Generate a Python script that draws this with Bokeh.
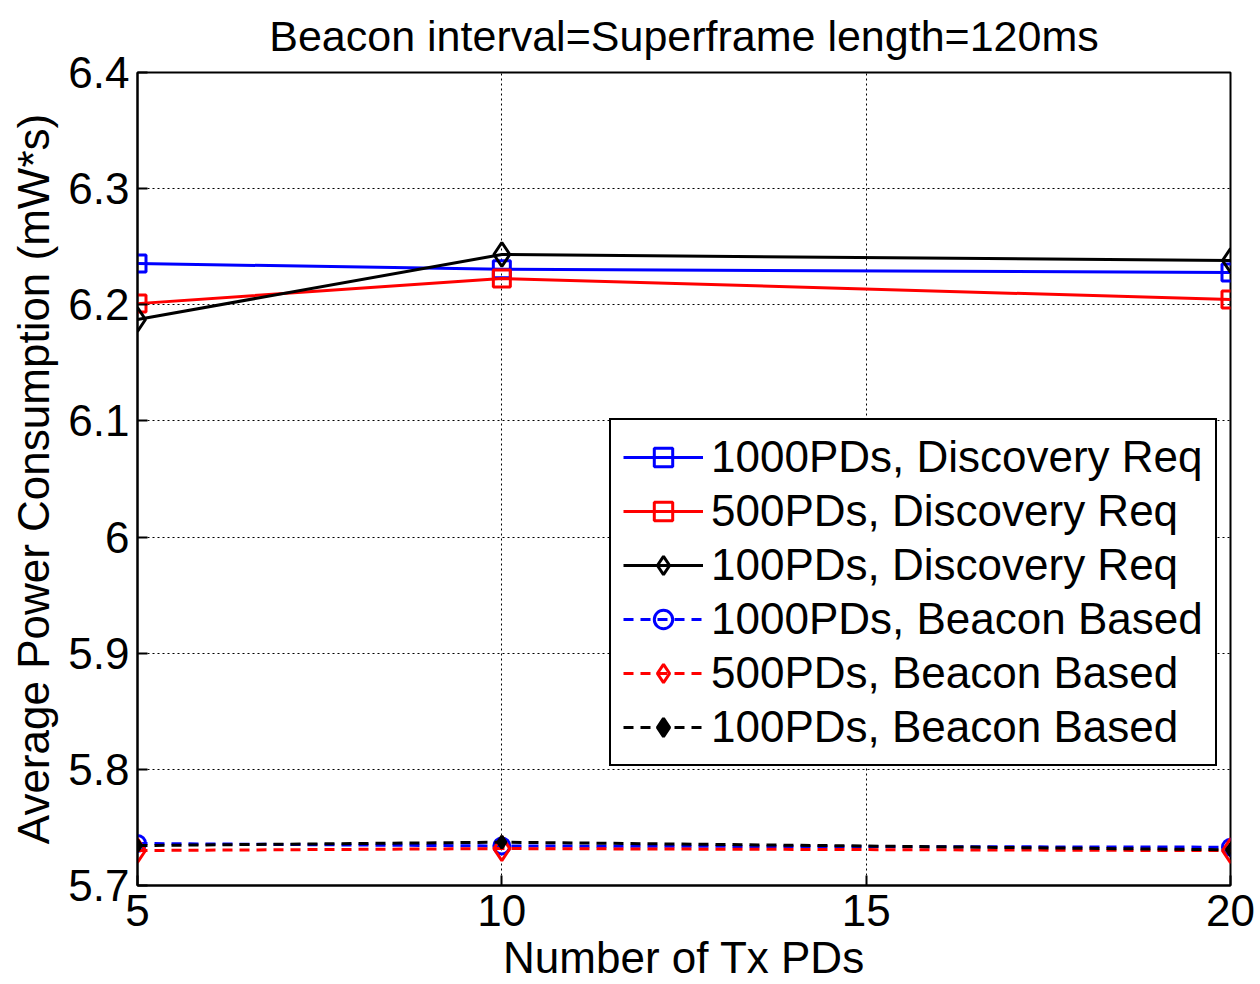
from bokeh.plotting import figure
from bokeh.models import Legend, LegendItem, FixedTicker
from bokeh.embed import file_html
from bokeh.resources import INLINE

x = [5, 10, 20]
dr_1000 = [6.2355, 6.2306, 6.2278]
dr_500 = [6.2010, 6.2226, 6.2045]
dr_100 = [6.1873, 6.2433, 6.2381]
bb_1000 = [5.7362, 5.7340, 5.7330]
bb_500 = [5.7301, 5.7318, 5.7300]
bb_100 = [5.7344, 5.7373, 5.7307]

x_ticks = [5, 10, 15, 20]
y_ticks = [5.7, 5.8, 5.9, 6.0, 6.1, 6.2, 6.3, 6.4]
y_tick_labels = ["5.7", "5.8", "5.9", "6", "6.1", "6.2", "6.3", "6.4"]
title_text = "Beacon interval=Superframe length=120ms"

FONT = "Liberation Sans"
FS = "44px"

p = figure(width=1260, height=984, x_range=(5, 20), y_range=(5.7, 6.4),
           output_backend="svg", toolbar_location=None,
           min_border_left=137, min_border_right=30, min_border_top=0, min_border_bottom=99)

p.title.text = title_text
p.title.align = "center"
p.title.vertical_align = "top"
p.title.text_font = FONT
p.title.text_font_size = "43px"
p.title.text_font_style = "normal"
p.title.text_color = "black"
p.title.standoff = 22

p.outline_line_color = "black"
p.outline_line_width = 2
p.outline_line_alpha = 1

for ax in (p.xaxis[0], p.yaxis[0]):
    ax.major_label_text_font = FONT
    ax.major_label_text_font_size = FS
    ax.major_label_text_color = "black"
    ax.axis_label_text_font = FONT
    ax.axis_label_text_font_size = FS
    ax.axis_label_text_font_style = "normal"
    ax.axis_label_text_color = "black"
    ax.axis_line_width = 2
    ax.major_tick_in = 10
    ax.major_tick_out = 0
    ax.minor_tick_line_color = None
    ax.major_tick_line_width = 2

p.xaxis.ticker = FixedTicker(ticks=x_ticks)
p.yaxis.ticker = FixedTicker(ticks=y_ticks)
p.yaxis.major_label_overrides = {t: l for t, l in zip(y_ticks, y_tick_labels)}
p.xaxis.axis_label = "Number of Tx PDs"
p.yaxis.axis_label = "Average Power Consumption (mW*s)"
p.xaxis.major_label_standoff = 9
p.yaxis.major_label_standoff = 8
p.xaxis.axis_label_standoff = 4
p.yaxis.axis_label_standoff = 7

p.grid.grid_line_color = "black"
p.grid.grid_line_dash = "2 3"
p.grid.grid_line_width = 1

items = []

def series(name, ys, color, dash, marker, size, filled=False):
    r1 = p.line(x, ys, line_color=color, line_width=3, line_dash=dash)
    r2 = p.scatter(x, ys, marker=marker, size=size, line_color=color, line_width=3,
                   fill_color=color if filled else None)
    items.append(LegendItem(label=name, renderers=[r1, r2]))

series("1000PDs, Discovery Req", dr_1000, "#0000ff", "solid", "square", 17)
series("500PDs, Discovery Req", dr_500, "#ff0000", "solid", "square", 17)
series("100PDs, Discovery Req", dr_100, "black", "solid", "diamond", 24)
series("1000PDs, Beacon Based", bb_1000, "#0000ff", "10 7", "circle", 16)
series("500PDs, Beacon Based", bb_500, "#ff0000", "10 7", "diamond", 24)
series("100PDs, Beacon Based", bb_100, "black", "10 7", "diamond", 12, filled=True)

legend = Legend(items=items, location=(472, 119))
legend.label_text_font = FONT
legend.label_text_font_size = FS
legend.label_text_color = "black"
legend.glyph_width = 80
legend.glyph_height = 46
legend.label_height = 46
legend.spacing = 4
legend.padding = 12
legend.margin = 0
legend.label_standoff = 8
legend.border_line_color = "black"
legend.border_line_width = 2
legend.border_line_alpha = 1
legend.background_fill_alpha = 1
p.add_layout(legend, "center")

open("out.html", "w").write(file_html(p, INLINE))
